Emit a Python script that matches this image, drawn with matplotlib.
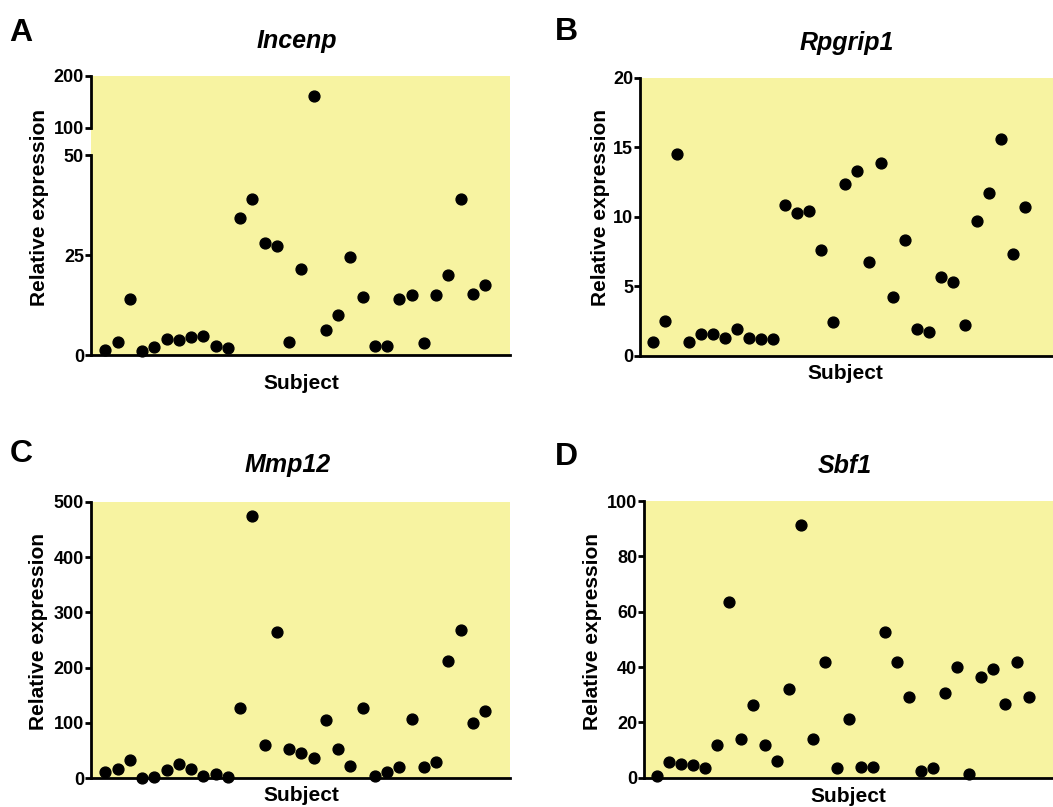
import numpy as np
import matplotlib
matplotlib.use("Agg")
import matplotlib.pyplot as plt

plt.rcParams['font.family'] = ['Liberation Sans', 'DejaVu Sans']
plt.rcParams['font.weight'] = 'bold'

# subjects along x
subjects = np.arange(1, 33)

incenp = [1.3, 3.2, 14.1, 1.0, 2.1, 4.1, 3.8, 4.6, 4.8, 2.2, 1.7, 34.3,
          39.1, 28.0, 27.3, 3.2, 21.5, 160.6, 6.2, 10.1, 24.4, 14.6, 2.2, 2.2,
          14.1, 15.1, 2.9, 15.1, 20.0, 38.9, 15.3, 17.4]
rpgrip1 = [0.98, 2.52, 14.5, 0.98, 1.56, 1.61, 1.32, 1.94, 1.27, 1.25, 1.2, 10.83,
           10.28, 10.4, 7.59, 2.47, 12.39, 13.3, 6.75, 13.9, 4.25, 8.36, 1.94, 1.75,
           5.71, 5.35, 2.26, 9.72, 11.76, 15.6, 7.35, 10.73]
mmp12 = [10.8, 17.5, 33, 0, 3, 15, 26, 17.5, 4, 8, 2, 127.7,
         473.5, 60.2, 264.5, 53, 45.2, 37.3, 105.4, 53, 22.9, 126.5, 4.2, 12,
         21, 107.8, 21, 28.9, 212, 268.7, 99.4, 122.3]
sbf1 = [0.6, 5.8, 4.9, 4.6, 3.4, 11.9, 63.6, 14.0, 26.1, 11.8, 6.1, 32.2,
        91.2, 14.0, 41.8, 3.4, 21.2, 4.0, 3.9, 52.8, 41.9, 29.0, 2.4, 3.4,
        30.5, 39.9, 1.4, 36.4, 39.3, 26.5, 41.7, 29.2]

YELLOW = '#F7F3A1'
W, H = 1053, 807


def rect(x0, y0, x1, y1):
    """pixel box (top-left origin) -> figure fraction rect"""
    return [x0 / W, 1 - y1 / H, (x1 - x0) / W, (y1 - y0) / H]


def style(ax, face=YELLOW):
    ax.set_facecolor(face)
    for s in ['top', 'right']:
        ax.spines[s].set_visible(False)
    for s in ['left', 'bottom']:
        ax.spines[s].set_linewidth(2.0)
    ax.tick_params(axis='y', length=4, width=2.0, pad=1, labelsize=13)
    ax.tick_params(axis='x', length=0, labelbottom=False)
    for lab in ax.get_yticklabels():
        lab.set_fontweight('bold')


def dots(ax, x, y):
    ax.plot(x, y, 'o', color='black', markersize=7.8, clip_on=False, zorder=5)


fig = plt.figure(figsize=(W / 100, H / 100), dpi=100)

# ---- A: Incenp with broken axis
vals = np.array(incenp)
bg = fig.add_axes(rect(91, 76, 510, 355))
bg.set_facecolor(YELLOW)
bg.set_xticks([])
bg.set_yticks([])
for s in bg.spines.values():
    s.set_visible(False)

ax_top = fig.add_axes(rect(91, 76, 510, 128))
ax_top.set_ylim(100, 200)
ax_top.set_yticks([100, 200])
ax_top.set_xlim(-0.17, 34.04)
style(ax_top, face='none')
ax_top.spines['bottom'].set_visible(False)
hi = vals >= 100
dots(ax_top, subjects[hi], vals[hi])

ax_a = fig.add_axes(rect(91, 155, 510, 355))
ax_a.set_ylim(0, 50)
ax_a.set_yticks([0, 25, 50])
ax_a.set_xlim(-0.17, 34.04)
style(ax_a, face='none')
lo = vals <= 50
dots(ax_a, subjects[lo], vals[lo])

# ---- B: Rpgrip1
ax_b = fig.add_axes(rect(640, 78, 1053, 356))
ax_b.set_ylim(0, 20)
ax_b.set_yticks([0, 5, 10, 15, 20])
ax_b.set_xlim(-0.08, 34.3)
style(ax_b)
dots(ax_b, subjects, rpgrip1)

# ---- C: Mmp12
ax_c = fig.add_axes(rect(91, 501.7, 510, 778.3))
ax_c.set_ylim(0, 500)
ax_c.set_yticks([0, 100, 200, 300, 400, 500])
ax_c.set_xlim(-0.17, 34.04)
style(ax_c)
dots(ax_c, subjects, mmp12)

# ---- D: Sbf1
ax_d = fig.add_axes(rect(644, 501, 1053, 777.7))
ax_d.set_ylim(0, 100)
ax_d.set_yticks([0, 20, 40, 60, 80, 100])
ax_d.set_xlim(-0.06, 34.0)
style(ax_d)
dots(ax_d, subjects, sbf1)


def ftext(px, py, s, **kw):
    fig.text(px / W, 1 - py / H, s, **kw)


panels = [
    ('A', 21, 41, 'Incenp', 297, 48, 301, 389, 40, 207),
    ('B', 566, 40, 'Rpgrip1', 847, 50, 845, 379, 600, 208),
    ('C', 21, 462, 'Mmp12', 288, 472, 301, 801, 39, 631),
    ('D', 566, 465, 'Sbf1', 845, 473, 848, 802, 592, 631),
]
for letter, lx, ly, title, tx, ty, sx, sy, yx, yy in panels:
    ftext(lx, ly, letter, fontsize=23, fontweight='bold', ha='center', va='baseline')
    ftext(tx, ty, title, fontsize=18, fontweight='bold', style='italic',
          ha='center', va='baseline')
    ftext(sx, sy, 'Subject', fontsize=15, fontweight='bold', ha='center', va='baseline')
    ftext(yx, yy, 'Relative expression', fontsize=15, fontweight='bold',
          rotation=90, ha='center', va='center')

fig.savefig('out.png', dpi=100, facecolor='white')
